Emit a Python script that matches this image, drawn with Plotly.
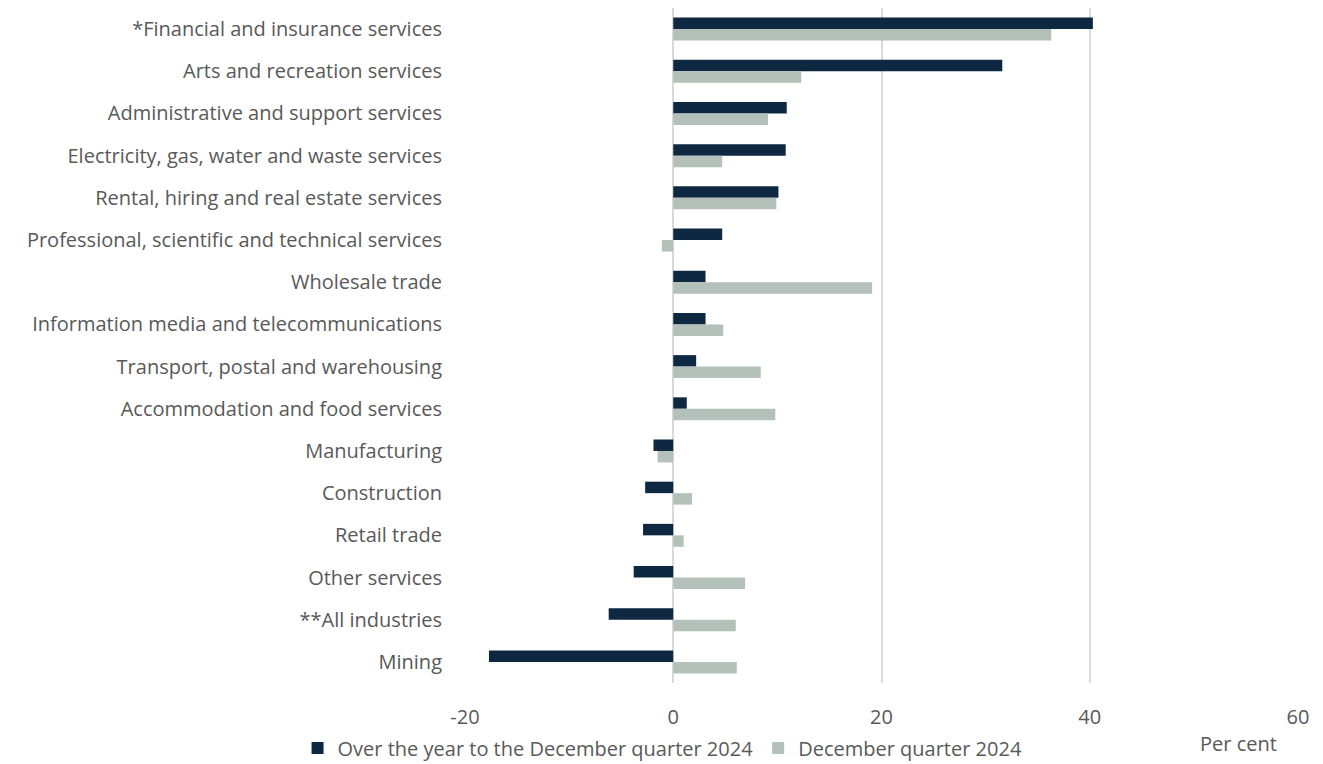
import plotly.graph_objects as go

categories = [
    "*Financial and insurance services",
    "Arts and recreation services",
    "Administrative and support services",
    "Electricity, gas, water and waste services",
    "Rental, hiring and real estate services",
    "Professional, scientific and technical services",
    "Wholesale trade",
    "Information media and telecommunications",
    "Transport, postal and warehousing",
    "Accommodation and food services",
    "Manufacturing",
    "Construction",
    "Retail trade",
    "Other services",
    "**All industries",
    "Mining",
]
over_year = [40.3, 31.6, 10.9, 10.8, 10.1, 4.7, 3.1, 3.1, 2.2, 1.3, -1.9, -2.7, -2.9, -3.8, -6.2, -17.7]
dec_quarter = [36.3, 12.3, 9.1, 4.7, 9.9, -1.1, 19.1, 4.8, 8.4, 9.8, -1.5, 1.8, 1.0, 6.9, 6.0, 6.1]
x_ticks = [-20, 0, 20, 40, 60]

DARK = "#0E2841"
LIGHT = "#B4C0BA"
TEXT = "#595959"
FONT = "Open Sans"

fig = go.Figure()
fig.add_trace(go.Bar(y=categories, x=over_year, orientation="h", name="Over the year to the December quarter 2024",
                     marker=dict(color=DARK, line=dict(width=0))))
fig.add_trace(go.Bar(y=categories, x=dec_quarter, orientation="h", name="December quarter 2024",
                     marker=dict(color=LIGHT, line=dict(width=0))))

fig.update_layout(
    width=1315, height=756,
    margin=dict(l=457, r=25, t=0, b=81, autoexpand=False),
    paper_bgcolor="white", plot_bgcolor="white",
    barmode="group", bargap=0.456, bargroupgap=0,
    font=dict(family=FONT, size=20, color=TEXT),
    showlegend=True,
    legend=dict(orientation="h", xref="container", yref="container",
                x=0.2202, xanchor="left", y=0.0212, yanchor="middle",
                font=dict(size=20, color=TEXT), itemwidth=30, traceorder="normal",
                bgcolor="rgba(0,0,0,0)"),
    annotations=[dict(text="Per cent", xref="paper", yref="paper", x=0.928, y=-0.090,
                      xanchor="center", yanchor="middle", showarrow=False,
                      font=dict(size=20, color=TEXT))],
)
fig.update_xaxes(range=[-20, 60], tickvals=x_ticks, ticktext=[str(v) for v in x_ticks],
                 showgrid=True, gridcolor="#D9D9D9", gridwidth=2,
                 zeroline=True, zerolinecolor="#D9D9D9", zerolinewidth=2,
                 showline=False, ticks="", ticklabelstandoff=20,
                 tickfont=dict(size=20, color=TEXT))
fig.update_yaxes(categoryorder="array", categoryarray=categories, autorange="reversed",
                 showgrid=False, showline=False, ticks="", ticklabelstandoff=22,
                 tickfont=dict(size=20, color=TEXT))

fig.write_html("out.html")
